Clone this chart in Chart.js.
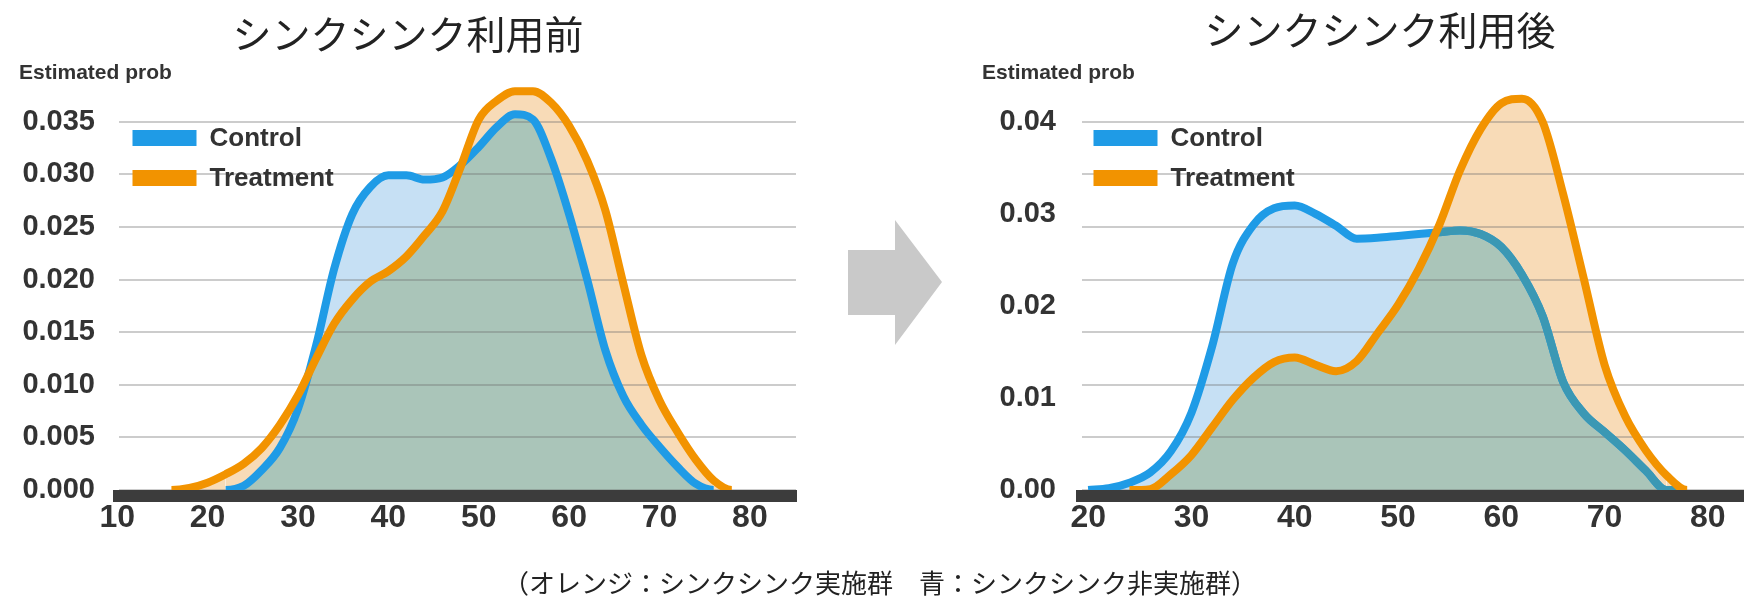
<!DOCTYPE html>
<html lang="ja">
<head>
<meta charset="utf-8">
<title>シンクシンク利用前・利用後</title>
<script src="https://cdn.jsdelivr.net/npm/chart.js@4.4.1/dist/chart.umd.min.js"></script>
<style>
  html, body { margin: 0; padding: 0; background: #fff; overflow: hidden; }
  #page { position: relative; width: 1744px; height: 597px; overflow: hidden; }
  #before { position: absolute; left: 0; top: 0; }
  #after { position: absolute; left: 960px; top: 0; }
  #arrow { position: absolute; left: 840px; top: 210px; }
  #note {
    position: absolute; left: 380px; top: 563px; width: 1000px;
    text-align: center; color: #222; line-height: 30px;
    font: 26px "Noto Sans CJK JP", sans-serif;
  }
</style>
</head>
<body>
<div id="page">
  <canvas id="before" width="812" height="597"></canvas>
  <svg id="arrow" width="110" height="145">
    <polygon points="8,40 55,40 55,10 102,72 55,135 55,105 8,105" fill="#c9c9c9"/>
  </svg>
  <canvas id="after" width="784" height="597"></canvas>
  <div id="note">（オレンジ：シンクシンク実施群　青：シンクシンク非実施群）</div>
</div>
<script>
// data
const ageBefore = [10, 12, 14, 16, 18, 20, 22, 24, 26, 28, 30, 32, 34, 36, 38, 40, 42, 44, 46,
  48, 50, 52, 54, 56, 58, 60, 62, 64, 66, 68, 70, 72, 74, 76, 78, 80, 82, 84];
const controlBefore = [0, 0, 0, 0, 0, 0, 0, 0.0004, 0.0019, 0.0040, 0.0077, 0.0137, 0.0210, 0.0262, 0.0288, 0.0299, 0.0299, 0.0295, 0.0297,
  0.0309, 0.0326, 0.0345, 0.0357, 0.0352, 0.0315, 0.0262, 0.0200, 0.0133, 0.0089, 0.0062, 0.0041, 0.0022, 0.0006, 0, 0, 0, 0, 0];
const treatmentBefore = [0, 0, 0, 0, 0.0002, 0.0007, 0.0015, 0.0025, 0.0040, 0.0062, 0.0090, 0.0125, 0.0158, 0.0181, 0.0198, 0.0208, 0.0222, 0.0242, 0.0265,
  0.0307, 0.0352, 0.0370, 0.0379, 0.0379, 0.0368, 0.0346, 0.0313, 0.0266, 0.0196, 0.0128, 0.0085, 0.0055, 0.0029, 0.0009, 0, 0, 0, 0];

const ageAfter = [20, 22, 24, 26, 28, 30, 32, 34, 36, 38, 40, 42, 44, 46, 48, 50,
  52, 54, 56, 58, 60, 62, 64, 66, 68, 70, 72, 74, 76, 78, 80, 82];
const controlAfter = [0, 0.0002, 0.0008, 0.0019, 0.0042, 0.0084, 0.0156, 0.0246, 0.0288, 0.0306, 0.0309, 0.0300, 0.0287, 0.0273, 0.0274, 0.0276,
  0.0278, 0.0280, 0.0282, 0.0278, 0.0264, 0.0234, 0.0189, 0.0117, 0.0083, 0.0063, 0.0043, 0.0021, 0, 0, 0, 0];
const treatmentAfter = [0, 0, 0, 0.0001, 0.0017, 0.0038, 0.0068, 0.0098, 0.0122, 0.0139, 0.0144, 0.0136, 0.0129, 0.0140, 0.0170, 0.0201,
  0.0240, 0.0288, 0.0347, 0.0392, 0.0420, 0.0425, 0.0400, 0.0321, 0.0229, 0.0136, 0.0080, 0.0043, 0.0016, 0, 0, 0];

const seriesNames = ['Control', 'Treatment'];
const titles = ['シンクシンク利用前', 'シンクシンク利用後'];
const yCaption = 'Estimated prob';

const xTicksBefore = [10, 20, 30, 40, 50, 60, 70, 80];
const yTicksBefore = [0, 0.005, 0.010, 0.015, 0.020, 0.025, 0.030, 0.035];
const xTicksAfter = [20, 30, 40, 50, 60, 70, 80];
const yTicksAfter = [0, 0.01, 0.02, 0.03, 0.04];

// colours
const BLUE = '#1f9be6';
const TEAL = '#3b98b4';
const ORANGE = '#f29300';
const BLUE_AREA = '#c6e0f4';
const ORANGE_AREA = '#f8dbb7';
const OVERLAP_AREA = '#aac5b9';
const GRID = 'rgba(110,110,110,0.35)';
const INK = '#333';
const LATIN = '"Liberation Sans", Arial, sans-serif';
const CJK = '"Noto Sans CJK JP", sans-serif';

// title, "Estimated prob" caption and legend boxes, drawn on top
const decor = {
  id: 'decor',
  afterDraw(chart, args, opts) {
    const {ctx, chartArea} = chart;
    ctx.save();
    ctx.textBaseline = 'middle';
    ctx.textAlign = 'center';
    ctx.fillStyle = '#222';
    ctx.font = '39px ' + CJK;
    ctx.fillText(opts.title, opts.titleX, opts.titleY);

    ctx.textAlign = 'left';
    ctx.fillStyle = INK;
    ctx.font = 'bold 21px ' + LATIN;
    ctx.fillText(opts.caption, chartArea.left - 100, chartArea.top + 3);

    ctx.font = 'bold 26px ' + LATIN;
    seriesNames.forEach((name, i) => {
      const ds = chart.data.datasets.find(d => d.label === name);
      const left = chartArea.left + opts.legendLeft;
      const top = chartArea.top + 60 + i * 40;
      ctx.fillStyle = ds.borderColor;
      ctx.fillRect(left, top, 64, 16);
      ctx.fillStyle = INK;
      ctx.fillText(name, left + 77, top + 8.5);
    });
    ctx.restore();
  }
};

// control line re-stroked in teal where it runs inside the treatment area
const tealUnder = {
  id: 'tealUnder',
  afterDatasetDraw(chart, args, opts) {
    if (!opts.enabled || chart.data.datasets[args.index].label !== seriesNames[0]) return;
    const control = args.meta.dataset;
    const tIndex = chart.data.datasets.findIndex(d => d.label === seriesNames[1]);
    const treatment = chart.getDatasetMeta(tIndex).dataset;
    const {ctx, chartArea} = chart;
    const zero = chart.scales.y.getPixelForValue(0);
    const pts = treatment.points;
    ctx.save();
    ctx.beginPath();
    ctx.rect(chartArea.left, chartArea.top, chartArea.width, chartArea.height);
    ctx.clip();
    ctx.beginPath();
    treatment.path(ctx);
    ctx.lineTo(pts[pts.length - 1].x, zero);
    ctx.lineTo(pts[0].x, zero);
    ctx.closePath();
    ctx.clip();
    ctx.beginPath();
    control.path(ctx);
    ctx.strokeStyle = opts.color;
    ctx.lineWidth = 8;
    ctx.lineCap = 'butt';
    ctx.lineJoin = 'round';
    ctx.stroke();
    ctx.restore();
  }
};

const near = (a, b) => Math.abs(a - b) < 1e-9;
const toPoints = (xs, ys) => xs.map((x, i) => ({x: x, y: ys[i]}));
const flatZero = ctx => ctx.p0.parsed.y === 0 && ctx.p1.parsed.y === 0;

function makeChart(id, cfg) {
  return new Chart(document.getElementById(id), {
    type: 'line',
    data: {
      datasets: [
        {
          label: seriesNames[1],
          data: toPoints(cfg.ages, cfg.treatment),
          borderColor: ORANGE,
          backgroundColor: ORANGE_AREA,
          fill: {target: 1, above: ORANGE_AREA, below: BLUE_AREA},
          order: 1,
          segment: {borderColor: ctx => flatZero(ctx) ? 'transparent' : undefined}
        },
        {
          label: seriesNames[0],
          data: toPoints(cfg.ages, cfg.control),
          borderColor: BLUE,
          backgroundColor: OVERLAP_AREA,
          fill: {target: 'origin', above: OVERLAP_AREA, below: OVERLAP_AREA},
          order: 2,
          segment: {borderColor: ctx => flatZero(ctx) ? 'transparent' : undefined}
        }
      ]
    },
    options: {
      responsive: false,
      animation: false,
      devicePixelRatio: 1,
      events: [],
      elements: {
        point: {radius: 0},
        line: {borderWidth: 8, cubicInterpolationMode: 'monotone', borderCapStyle: 'butt', borderJoinStyle: 'round'}
      },
      layout: {padding: {left: 0, right: cfg.padRight, top: 70, bottom: 0}},
      plugins: {
        legend: {display: false},
        tooltip: {enabled: false},
        title: {display: false},
        filler: {drawTime: 'beforeDraw'},
        decor: {
          title: cfg.title, titleX: cfg.titleX, titleY: cfg.titleY,
          caption: yCaption, legendLeft: cfg.legendLeft
        },
        tealUnder: {enabled: cfg.tealUnder, color: TEAL}
      },
      scales: {
        x: {
          type: 'linear',
          min: cfg.xMin,
          max: cfg.xMax,
          afterBuildTicks: s => { s.ticks = cfg.xTicks.map(v => ({value: v})); },
          afterFit: s => { s.height = 101; },
          grid: {display: false, drawTicks: false},
          border: {display: true, width: 12, color: '#3c3c3c', z: 1},
          ticks: {
            padding: 3, color: INK, autoSkip: false, maxRotation: 0,
            font: {family: LATIN, size: 32, weight: 'bold'}
          }
        },
        y: {
          min: cfg.yMin,
          max: cfg.yMax,
          afterBuildTicks: s => {
            const all = cfg.gridValues.concat(cfg.yTicks.filter(v => !cfg.gridValues.some(g => near(g, v))));
            s.ticks = all.sort((a, b) => a - b).map(v => ({value: v}));
          },
          afterFit: s => { s.width = cfg.yWidth; },
          grid: {
            drawTicks: false,
            lineWidth: 2,
            color: ctx => ctx.tick && cfg.gridValues.some(g => near(g, ctx.tick.value)) ? GRID : 'transparent'
          },
          border: {display: false},
          ticks: {
            padding: cfg.yPad, color: INK, autoSkip: false,
            font: {family: LATIN, size: 29, weight: 'bold'},
            callback: v => cfg.yTicks.some(t => near(t, v)) ? v.toFixed(cfg.digits) : ''
          }
        }
      }
    },
    plugins: [decor, tealUnder]
  });
}

makeChart('before', {
  title: titles[0], titleX: 408, titleY: 34,
  ages: ageBefore, control: controlBefore, treatment: treatmentBefore,
  xMin: 10.2, xMax: 85.1, xTicks: xTicksBefore,
  yMin: -0.00057, yMax: 0.03991, yTicks: yTicksBefore, gridValues: yTicksBefore, digits: 3,
  yWidth: 119, yPad: 24, padRight: 16, legendLeft: 13.5, tealUnder: false
});

makeChart('after', {
  title: titles[1], titleX: 420, titleY: 30,
  ages: ageAfter, control: controlAfter, treatment: treatmentAfter,
  xMin: 19.4, xMax: 83.5, xTicks: xTicksAfter,
  yMin: -0.00065, yMax: 0.04562, yTicks: yTicksAfter,
  gridValues: Array.from({length: 8}, (_, k) => 0.04 * k / 7), digits: 2,
  yWidth: 122, yPad: 26, padRight: 0, legendLeft: 11.5, tealUnder: true
});
</script>
</body>
</html>
